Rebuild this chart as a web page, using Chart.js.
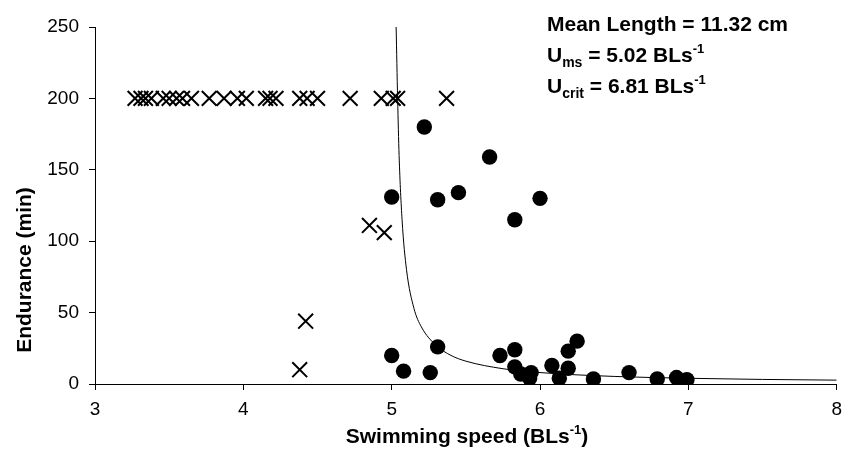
<!DOCTYPE html>
<html>
<head>
<meta charset="utf-8">
<script src="https://cdn.jsdelivr.net/npm/chart.js@4/dist/chart.umd.min.js"></script>
<style>
  html, body { margin: 0; padding: 0; background: #fff; }
</style>
</head>
<body>
<canvas id="chartJS" width="850" height="468"></canvas>
<script>
// fish that did not fatigue (crosses)
const crossSpeed = [
    3.27, 3.31, 3.34, 3.38, 3.46, 3.50, 3.55, 3.59, 3.65, 3.77, 3.87, 3.96,
    4.02, 4.15, 4.18, 4.22, 4.38, 4.43, 4.50, 4.72, 4.93, 5.01, 5.04, 5.37,
    4.85, 4.95, 4.42, 4.38
];
const crossEndurance = [
    200, 200, 200, 200, 200, 200, 200, 200, 200, 200, 200, 200,
    200, 200, 200, 200, 200, 200, 200, 200, 200, 200, 200, 200,
    111, 106, 44, 10
];

// fish that fatigued (circles)
const dotSpeed = [
    5.22, 5.66, 5.00, 5.31, 5.45, 6.00, 5.83,
    5.00, 5.08, 5.26, 5.31, 5.73, 5.83, 5.83, 5.87, 5.94, 5.93,
    6.08, 6.13, 6.19, 6.19, 6.25, 6.36, 6.60, 6.79, 6.92, 6.99
];
const dotEndurance = [
    180, 159, 131, 129, 134, 130, 115,
    20, 9, 8, 26, 20, 24, 12, 7, 8, 4,
    13, 4, 11, 23, 30, 3.5, 8, 3.5, 4.5, 3
];

// fitted endurance curve
const curveSpeed = [5.03, 5.04, 5.05, 5.07, 5.10, 5.15, 5.20, 5.30, 5.40, 5.50, 5.75, 6.00, 6.50, 7.00, 7.50, 8.00];
const curveEndurance = [250, 200, 160, 115, 80, 53, 40, 27, 20, 16, 10.7, 8, 5.3, 4, 3.2, 2.7];

const xTicks = [3, 4, 5, 6, 7, 8];
const yTicks = [0, 50, 100, 150, 200, 250];

const FONT = '"Liberation Sans", Arial, sans-serif';

function pts(xs, ys) {
    return xs.map((x, i) => ({ x: x, y: ys[i] }));
}

// draws text pieces with sub/superscripts
function drawRich(ctx, parts, x, y, align) {
    let total = 0;
    parts.forEach(p => {
        ctx.font = 'bold ' + p.size + 'px ' + FONT;
        p.w = ctx.measureText(p.t).width;
        total += p.w;
    });
    let cx = align === 'center' ? x - total / 2 : x;
    ctx.textAlign = 'left';
    ctx.textBaseline = 'alphabetic';
    parts.forEach(p => {
        ctx.font = 'bold ' + p.size + 'px ' + FONT;
        ctx.fillText(p.t, cx, y + (p.dy || 0));
        cx += p.w;
    });
}

const textPlugin = {
    id: 'texts',
    afterDraw(chart) {
        const ctx = chart.ctx;
        ctx.save();
        ctx.fillStyle = '#000';

        // y axis title
        ctx.save();
        ctx.translate(31, 270);
        ctx.rotate(-Math.PI / 2);
        ctx.font = 'bold 21px ' + FONT;
        ctx.textAlign = 'center';
        ctx.textBaseline = 'alphabetic';
        ctx.fillText('Endurance (min)', 0, 0);
        ctx.restore();

        // x axis title
        drawRich(ctx, [
            { t: 'Swimming speed (BLs', size: 21 },
            { t: '-1', size: 13, dy: -9 },
            { t: ')', size: 21 }
        ], 467, 443, 'center');

        // annotations
        drawRich(ctx, [{ t: 'Mean Length = 11.32 cm', size: 21 }], 547, 31);
        drawRich(ctx, [
            { t: 'U', size: 21 },
            { t: 'ms', size: 14, dy: 5 },
            { t: ' = 5.02 BLs', size: 21 },
            { t: '-1', size: 13, dy: -9 }
        ], 547, 62);
        drawRich(ctx, [
            { t: 'U', size: 21 },
            { t: 'crit', size: 14, dy: 5 },
            { t: ' = 6.81 BLs', size: 21 },
            { t: '-1', size: 13, dy: -9 }
        ], 547, 93);
        ctx.restore();
    }
};

const data = {
    datasets: [{
        label: 'curve',
        data: pts(curveSpeed, curveEndurance),
        showLine: true,
        borderColor: '#000',
        borderWidth: 1,
        pointRadius: 0,
        cubicInterpolationMode: 'monotone'
    },
    {
        label: 'no fatigue',
        data: pts(crossSpeed, crossEndurance),
        pointStyle: 'crossRot',
        pointRadius: 10.5,
        borderColor: '#000',
        borderWidth: 2,
        backgroundColor: '#000'
    },
    {
        label: 'fatigue',
        data: pts(dotSpeed, dotEndurance),
        pointStyle: 'circle',
        pointRadius: 7.7,
        borderWidth: 0,
        backgroundColor: '#000'
    }]
};

const config = {
    type: 'scatter',
    data: data,
    options: {
        responsive: false,
        animation: false,
        layout: { padding: { top: 27, right: 10, bottom: 0, left: 0 } },
        plugins: {
            legend: { display: false },
            tooltip: { enabled: false }
        },
        scales: {
            x: {
                type: 'linear',
                min: 3,
                max: 8,
                afterBuildTicks: s => { s.ticks = xTicks.map(v => ({ value: v })); },
                afterFit: s => { s.height = 84; },
                ticks: { color: '#000', padding: 8, font: { family: FONT, size: 19 } },
                grid: { drawOnChartArea: false, tickLength: 6, color: '#000' },
                border: { color: '#000', width: 1 }
            },
            y: {
                type: 'linear',
                min: 0,
                max: 250,
                afterBuildTicks: s => { s.ticks = yTicks.map(v => ({ value: v })); },
                afterFit: s => { s.width = 95; },
                ticks: { color: '#000', padding: 10, font: { family: FONT, size: 19 } },
                grid: { drawOnChartArea: false, tickLength: 6, color: '#000' },
                border: { color: '#000', width: 1 }
            }
        }
    },
    plugins: [textPlugin]
};

const myChart = new Chart(document.getElementById('chartJS'), config);
</script>
</body>
</html>
